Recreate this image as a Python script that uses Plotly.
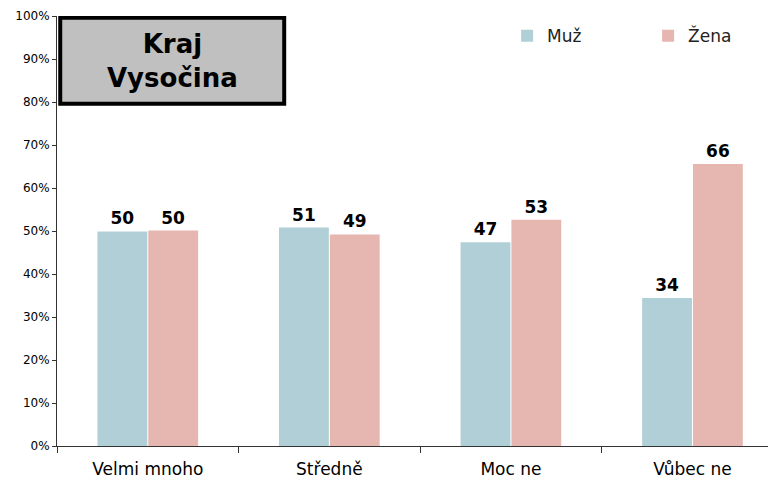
import plotly.graph_objects as go

categories = ["Velmi mnoho", "Středně", "Moc ne", "Vůbec ne"]
muz = [49.9, 50.8, 47.4, 34.4]
zena = [50.1, 49.2, 52.6, 65.6]
y_ticks = [0, 10, 20, 30, 40, 50, 60, 70, 80, 90, 100]
y_tick_labels = [f"{v}%" for v in y_ticks]
title_text = "Kraj<br>Vysočina"

FONT = "DejaVu Sans"
C_MUZ = "#B1CFD6"
C_ZENA = "#E6B6B1"

fig = go.Figure()
for name, vals, col in [("Muž", muz, C_MUZ), ("Žena", zena, C_ZENA)]:
    fig.add_trace(go.Bar(
        name=name, x=categories, y=vals, marker=dict(color=col, line=dict(width=0)),
        texttemplate="%{y:.0f}", textposition="outside",
        textfont=dict(family=FONT, size=17, color="black", weight="bold"),
        cliponaxis=False, constraintext="none",
    ))

# page body adds an 8px margin, so the figure is 768x472
fig.update_layout(
    width=768, height=472,
    margin=dict(l=49, r=0, t=8, b=34, autoexpand=False),
    paper_bgcolor="white", plot_bgcolor="white",
    font=dict(family=FONT, color="black"),
    barmode="group", bargap=0.44, bargroupgap=0.02,
    showlegend=True,
    legend=dict(
        orientation="h", x=0.626, y=0.995, xanchor="left", yanchor="top",
        font=dict(family=FONT, size=17, color="#222"),
        entrywidth=96, entrywidthmode="pixels", itemwidth=30,
        bgcolor="rgba(0,0,0,0)",
    ),
    xaxis=dict(
        range=[-0.5, 3.46], showline=True, linecolor="#333", linewidth=1,
        ticks="outside", tickson="boundaries", ticklen=6, tickcolor="#333",
        tickfont=dict(family=FONT, size=17, color="black"),
        ticklabelstandoff=8,
        showgrid=False, zeroline=False, automargin=False,
    ),
    yaxis=dict(
        range=[0, 100], tickvals=y_ticks, ticktext=y_tick_labels,
        showline=True, linecolor="#333", linewidth=1,
        ticks="outside", ticklen=4, tickcolor="#333",
        tickfont=dict(family=FONT, size=12, color="black"),
        showgrid=False, zeroline=False, automargin=False,
    ),
)

fig.add_shape(
    type="rect", xref="paper", yref="y",
    x0=0.0045, x1=0.316, y0=79.6, y1=99.6,
    fillcolor="#C0C0C0", line=dict(color="black", width=4), layer="above",
)
fig.add_annotation(
    xref="paper", yref="y", x=0.160, y=89.6,
    text=f"<b>{title_text}</b>", showarrow=False,
    font=dict(family=FONT, size=26, color="black"),
    align="center", xanchor="center", yanchor="middle",
)

fig.write_html("out.html")
